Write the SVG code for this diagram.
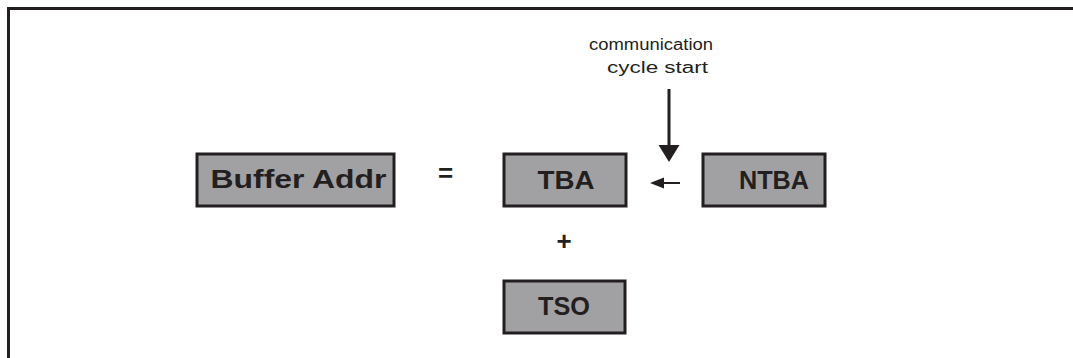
<svg xmlns="http://www.w3.org/2000/svg" width="1073" height="358" viewBox="0 0 1073 358">
<style>
.box{fill:#a1a1a3;stroke:#231f20;stroke-width:3}
.lbl{font-family:"Liberation Sans",Arial,sans-serif;font-weight:bold;font-size:26px;fill:#231f20;text-anchor:middle}
.note{font-family:"Liberation Sans",Arial,sans-serif;font-size:16px;fill:#231f20;text-anchor:middle}
.ln{stroke:#231f20;fill:none}
.head{fill:#231f20}
</style>
<path d="M8.5,358 V8.5 H1073" fill="none" stroke="#231f20" stroke-width="3"/>
<g id="buffer-addr"><rect class="box" x="197" y="154" width="197" height="52"/><text class="lbl" x="298.5" y="188" textLength="176" lengthAdjust="spacingAndGlyphs">Buffer Addr</text></g>
<g id="equals"><text class="lbl" x="445.5" y="182">=</text></g>
<g id="tba"><rect class="box" x="504" y="154" width="122" height="52"/><text class="lbl" x="566" y="188.5" textLength="57" lengthAdjust="spacingAndGlyphs">TBA</text></g>
<g id="ntba"><rect class="box" x="703" y="154" width="122" height="52"/><text class="lbl" x="774" y="188.5" textLength="70" lengthAdjust="spacingAndGlyphs">NTBA</text></g>
<g id="plus"><text class="lbl" x="564" y="249.5">+</text></g>
<g id="tso"><rect class="box" x="504" y="281" width="121" height="52"/><text class="lbl" x="564" y="314.5" textLength="52" lengthAdjust="spacingAndGlyphs">TSO</text></g>
<g id="note"><text class="note" x="651" y="50" textLength="124" lengthAdjust="spacingAndGlyphs">communication</text><text class="note" x="657.5" y="72.5" textLength="101" lengthAdjust="spacingAndGlyphs">cycle start</text></g>
<g id="connectors">
<path d="M669,89 V146" class="ln" stroke-width="3"/>
<path class="head" d="M658.5,145 L679.5,145 L669,162 Z"/>
<path d="M680,183 H662" class="ln" stroke-width="2"/>
<path class="head" d="M664,177.5 L664,188.5 L650,183 Z"/>
</g>
</svg>
